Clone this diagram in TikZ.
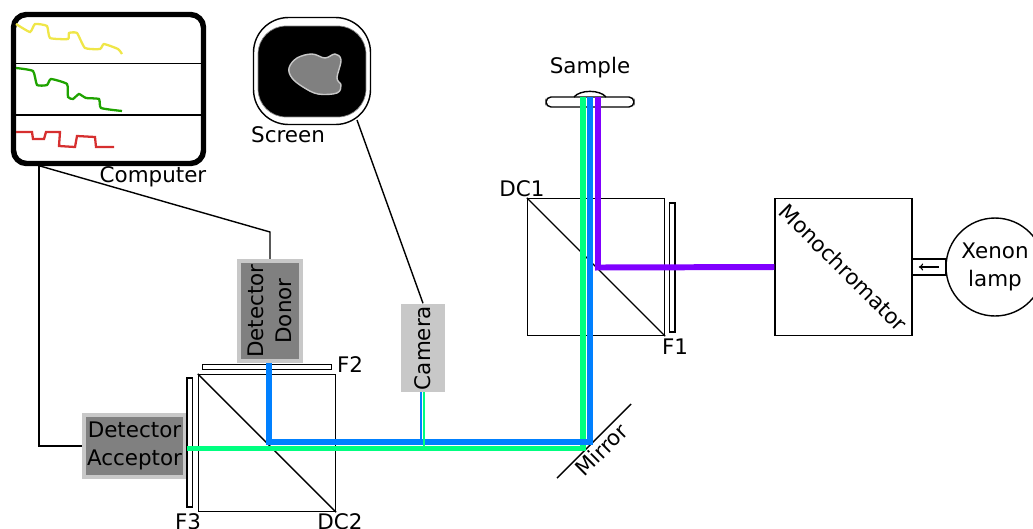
\documentclass[tikz,border=0pt]{standalone}
\usepackage{fontspec}
\setmainfont{DejaVu Sans}
\usepackage{xcolor}
\usetikzlibrary{arrows.meta,positioning,calc}
\definecolor{beamblue}{HTML}{0080FF}
\definecolor{beamgreen}{HTML}{00FF80}
\definecolor{beamviolet}{HTML}{8000FF}
\definecolor{traceyellow}{HTML}{EFE648}
\definecolor{tracegreen}{HTML}{1FA300}
\definecolor{tracered}{HTML}{D62F2F}
\definecolor{detgrey}{HTML}{808080}
\definecolor{edgegrey}{HTML}{C8C8C8}
\tikzset{
  lbl/.style={inner sep=0pt,align=center,font=\fontsize{12.2}{15.6}\selectfont},
  cube/.style={draw,inner sep=0pt,minimum size=2.74cm},
  filt/.style={draw,fill=white,inner sep=0pt},
  det/.style={lbl,draw=edgegrey,fill=detgrey,line width=2.3pt},
  beam/.style={line width=3.4pt},
  trace/.style={line width=1.3pt,smooth,tension=.3},
}
\begin{document}
\begin{tikzpicture}[x=0.02cm,y=-0.02cm,line width=0.8pt,>=Latex]
  \clip (0,0) rectangle (1033,528);
  % computer and its traces
  \node[draw,line width=3.1pt,rounded corners=0.26cm,inner sep=0pt,
        minimum width=3.8cm,minimum height=2.98cm] (comp) at (108.5,89) {};
  \node[lbl] (complbl) at (153,176.5) {Computer};
  \draw[line width=1.1pt] (16,63.5) -- (203,63.5);
  \draw[line width=1.1pt] (16,115) -- (203,115);
  \draw[trace,traceyellow] plot coordinates {(16,24) (30,32) (35,24) (47,26) (50,38) (68,39) (69,33) (77,33) (85,48) (100,49) (104,44) (118,49) (122,54)};
  \draw[trace,tracegreen] plot coordinates {(16,68) (33,71) (37,85) (47,85) (51,79) (67,84) (68,97) (73,99) (79,94) (86,98) (99,99) (101,108) (122,111)};
  \draw[line width=1.3pt,tracered] (16,132) -- (32,132) -- (33,139) -- (44,139) -- (46,132) -- (60,132) -- (59,146) -- (75,147) -- (77,136) -- (95,137) -- (96,147) -- (114,147);

  % screen
  \node[draw,rounded corners=0.7cm,inner sep=0pt,
        minimum width=2.34cm,minimum height=2.14cm] (scrn) at (312,71) {};
  \node[draw=black!45,fill=black,line width=.4pt,rounded corners=0.56cm,inner sep=0pt,
        minimum width=2.16cm,minimum height=1.82cm] (scrnin) at (312,71.5) {};
  \draw[fill=detgrey,draw=edgegrey,line width=.8pt] plot[smooth cycle,tension=.6] coordinates {(289,68) (297,58) (312,54) (325,58) (335,54) (341,60) (337,78) (341,85) (337,93) (318,94) (303,87) (292,78)};
  \node[lbl] (scrnlbl) at (288,134.5) {Screen};

  % detectors and camera
  \node[det,rotate=90,minimum width=2cm,minimum height=1.24cm] (donor) at (270,311) {Detector\\Donor};
  \node[det,minimum width=2.02cm,minimum height=1.24cm] (accept) at (134.5,446) {\raisebox{-1.1pt}{Detector}\\\raisebox{-1.1pt}{Acceptor}};
  \node[lbl,rotate=90,fill=edgegrey,minimum width=1.76cm,minimum height=0.88cm] (cam) at (423,348) {Camera};

  % cubes and filters
  \node[cube] (dctwo) at (267,443) {};
  \draw (dctwo.north west) -- (dctwo.south east);
  \node[cube] (dcone) at (596,267) {};
  \draw (dcone.north west) -- (dcone.south east);
  \node[filt,minimum width=2.58cm,minimum height=0.11cm] (ftwo) at (267,367) {};
  \node[filt,minimum width=0.11cm,minimum height=2.58cm] (fthree) at (189.8,442.5) {};
  \node[filt,minimum width=0.11cm,minimum height=2.58cm] (fone) at (672.2,267.5) {};
  \node[lbl] (ftwolbl) at (350,365) {F2};
  \node[lbl] (fthreelbl) at (188,522) {F3};
  \node[lbl] (fonelbl) at (675,347) {F1};
  \node[lbl] (dctwolbl) at (340,522) {DC2};
  \node[lbl] (dconelbl) at (522,189) {DC1};

  % sample and mirror
  \node[draw,fill=white,rounded corners=0.1cm,inner sep=0pt,
        minimum width=1.76cm,minimum height=0.2cm] (smpl) at (590,102) {};
  \coordinate (lensa) at (574,97);
  \coordinate (lensb) at (606,97);
  \draw (lensa) .. controls (580,89.5) and (600,89.5) .. (lensb);
  \node[lbl] (smpllbl) at (590,67.5) {Sample};
  \coordinate (mira) at (557,478);
  \coordinate (mirb) at (631,404);
  \draw (mira) -- (mirb);
  \node[lbl,rotate=45] (mirlbl) at (601.5,449.5) {Mirror};

  % monochromator and lamp
  \node[draw,inner sep=0pt,minimum size=2.74cm] (mono) at (843.5,267) {};
  \node[lbl,rotate=-45] (monolbl) at (843.5,267.5) {Monochromator};
  \node[draw,lbl,circle,minimum size=1.96cm] (lamp) at (995,267) {Xenon\\lamp};
  \node[draw,inner sep=0pt,minimum width=0.69cm,minimum height=0.32cm] (tube) at (928.7,267) {};
  \draw[-{To[length=2.5pt,width=4pt]},line width=.6pt] ($(tube.east)+(-8,0)$) -- ($(tube.west)+(8,0)$);

  % wiring
  \coordinate (tapa) at (39,166);
  \coordinate (tapb) at (40,166);
  \coordinate (tapc) at (270,232);
  \coordinate (tapd) at (357,120);
  \draw (tapa) |- (accept.west);
  \draw (tapb) -- (tapc) -- (donor.east);
  \draw (tapd) -- (cam.east);

  % beams
  \coordinate (bluea) at (269,363);
  \coordinate (blueb) at (590,442);
  \coordinate (bluec) at (590,97);
  \coordinate (greena) at (187,448.5);
  \coordinate (greenb) at (583,448.5);
  \coordinate (greenc) at (583,97);
  \coordinate (viola) at (mono.west);
  \coordinate (violb) at (598,267.5);
  \coordinate (violc) at (598,97);
  \draw[line width=1.6pt,beamblue] (421,392) -- (421,442);
  \draw[beam,beamgreen] (greena) -- (greenb) -- (greenc);
  \draw[beam,beamblue] (bluea) |- (blueb) -- (bluec);
  \draw[line width=1.6pt,beamgreen] (424,392) -- (424,448);
  \draw[beam,beamviolet] (viola) -- (violb) -- (violc);
\end{tikzpicture}
\end{document}
